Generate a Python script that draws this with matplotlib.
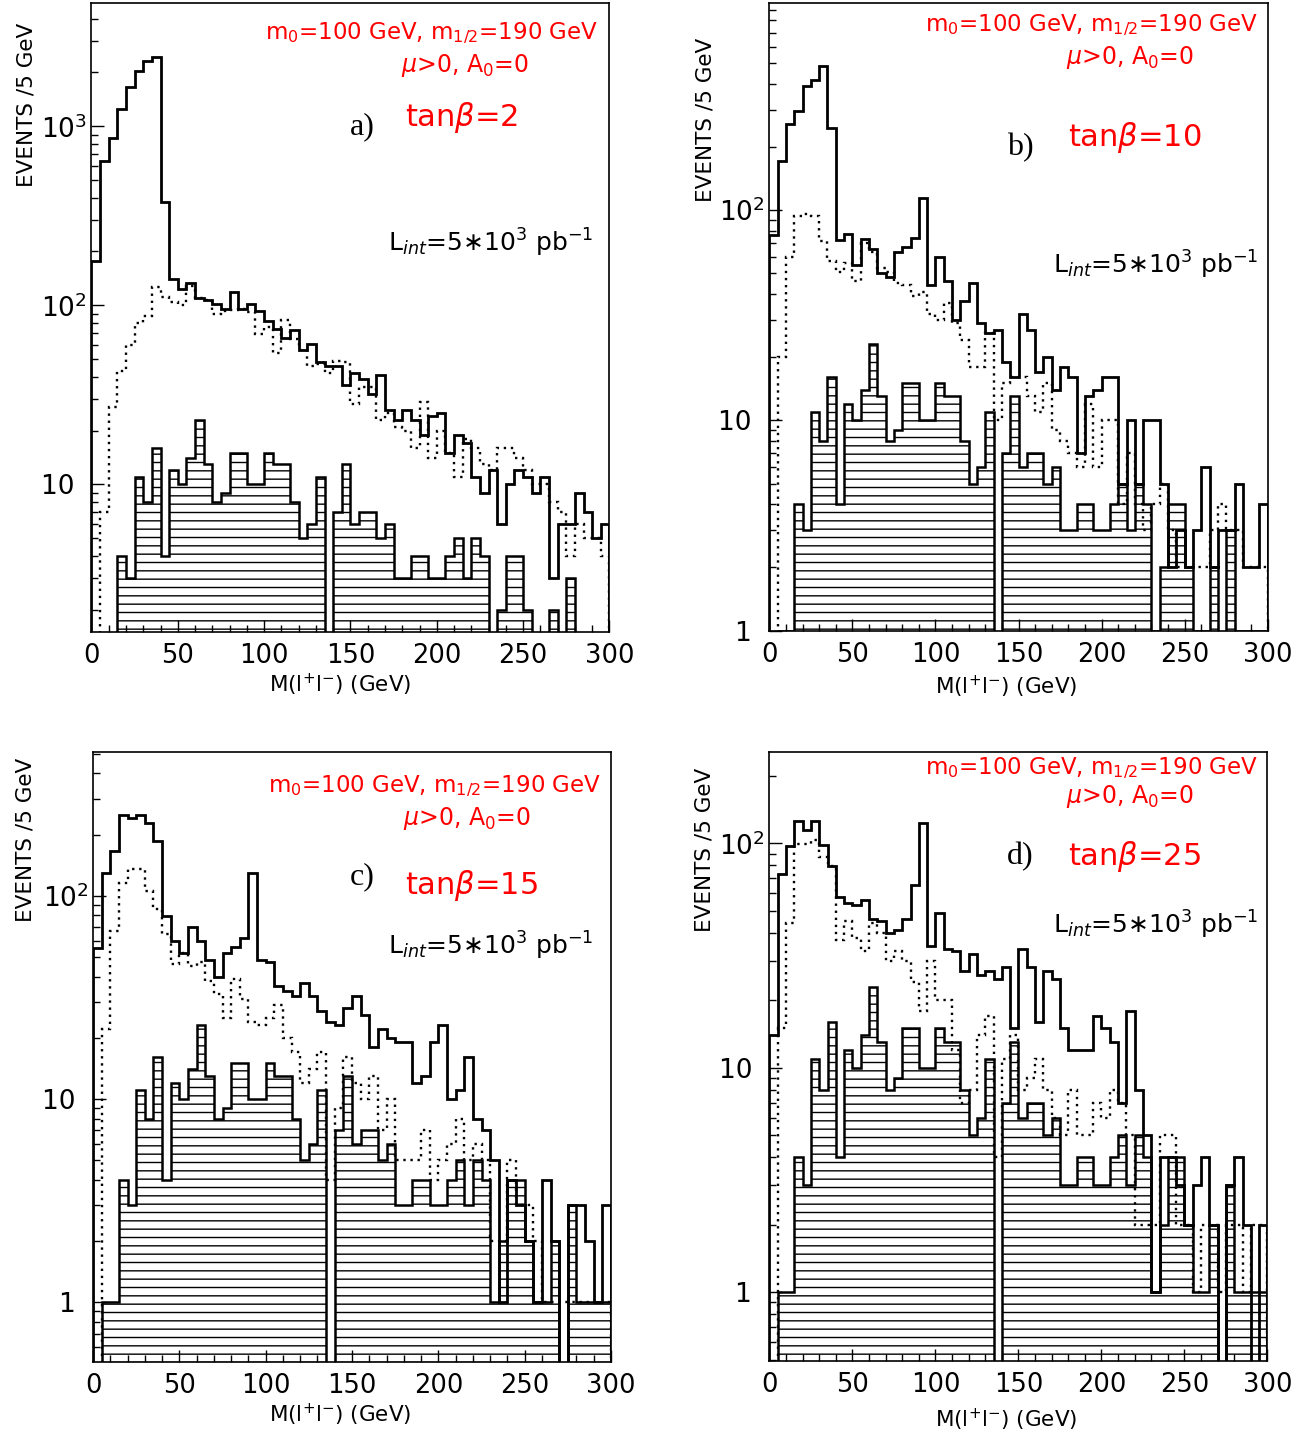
import numpy as np
import matplotlib
matplotlib.use('Agg')
import matplotlib.pyplot as plt
from matplotlib.ticker import FixedLocator, LogLocator, MultipleLocator, FuncFormatter, NullFormatter

plt.rcParams['font.family'] = ['DejaVu Sans']
plt.rcParams['mathtext.fontset'] = 'dejavusans'
plt.rcParams['hatch.linewidth'] = 1.0

# 5 GeV bins from 0 to 300 GeV
edges = np.arange(0, 305, 5)

# hatched histogram, the same in all four panels
hatched = [0, 1, 1, 4, 3, 11, 8, 16, 4, 12,
           10, 14, 23, 13, 8, 9, 15, 15, 10, 10,
           15, 13, 13, 8, 5, 6, 11, 0, 7, 13,
           6, 7, 7, 5, 6, 3, 3, 4, 4, 3,
           3, 4, 5, 3, 5, 4, 1, 2, 4, 4,
           2, 1, 1, 2, 0, 3, 1, 1, 1, 1]

# a) tan(beta) = 2
solid_a = [176, 638, 865, 1250, 1660, 2050, 2330, 2435, 378, 140,
           123, 134, 110, 107, 102, 95, 119, 95, 102, 93,
           82, 74, 66, 73, 56, 61, 48, 46, 46, 36,
           42, 39, 32, 41, 26, 23, 26, 23, 19, 24,
           25, 15, 19, 17, 11, 9, 12, 6, 10, 12,
           11, 9, 11, 3, 6, 6, 9, 7, 5, 6]
dotted_a = [0, 7, 27, 43, 60, 80, 87, 127, 111, 105,
            100, 128, 110, 107, 89, 93, 94, 95, 92, 69,
            76, 54, 83, 65, 56, 46, 47, 42, 49, 48,
            28, 35, 35, 23, 25, 21, 20, 16, 29, 14,
            20, 15, 11, 18, 16, 13, 12, 16, 16, 14,
            12, 10, 10, 8, 7, 4, 6, 5, 5, 4]

# b) tan(beta) = 10
solid_b = [76, 171, 256, 297, 391, 414, 484, 247, 72, 77,
           55, 73, 65, 50, 48, 63, 67, 74, 114, 44,
           60, 46, 30, 37, 45, 29, 26, 27, 19, 16,
           32, 27, 17, 20, 14, 18, 16, 7, 13, 14,
           16, 16, 5, 10, 5, 10, 10, 5, 2, 3,
           2, 3, 6, 2, 3, 3, 5, 2, 2, 4]
dotted_b = [0, 20, 60, 94, 96, 94, 71, 57, 51, 56,
            46, 70, 63, 53, 51, 45, 44, 39, 41, 32,
            30, 36, 29, 24, 18, 18, 26, 10, 15, 16,
            16, 13, 11, 15, 9, 8, 7, 6, 12, 6,
            10, 10, 4, 7, 4, 3, 4, 5, 3, 2,
            2, 2, 2, 3, 4, 3, 3, 2, 2, 2]

# c) tan(beta) = 15
solid_c = [55, 129, 165, 250, 241, 250, 228, 185, 79, 60,
           52, 70, 60, 48, 40, 52, 56, 62, 129, 48,
           47, 36, 34, 32, 37, 32, 27, 24, 23, 28,
           32, 26, 18, 22, 20, 19, 19, 12, 13, 19,
           23, 10, 11, 16, 8, 7, 5, 1, 4, 3,
           2, 1, 4, 2, 0, 3, 3, 2, 1, 3]
dotted_c = [0, 22, 67, 116, 135, 135, 106, 86, 65, 46,
            52, 45, 47, 38, 33, 25, 39, 31, 24, 23,
            25, 29, 20, 17, 12, 14, 17, 4, 9, 16,
            12, 10, 13, 7, 10, 5, 5, 5, 7, 4,
            5, 6, 8, 5, 6, 5, 2, 2, 5, 3,
            3, 2, 1, 1, 1, 1, 1, 1, 1, 1]

# d) tan(beta) = 25
solid_d = [14, 73, 97, 126, 115, 126, 98, 79, 58, 54,
           53, 56, 46, 45, 40, 41, 46, 65, 123, 35,
           49, 34, 33, 27, 32, 26, 27, 25, 28, 15,
           34, 28, 16, 27, 25, 15, 12, 12, 12, 17,
           15, 13, 7, 18, 8, 5, 1, 4, 4, 3,
           2, 3, 4, 2, 0, 3, 4, 2, 0, 2]
dotted_d = [0, 15, 44, 99, 99, 104, 87, 79, 37, 45,
            38, 33, 44, 40, 30, 33, 30, 24, 18, 30,
            20, 20, 12, 7, 8, 14, 17, 4, 11, 14,
            8, 9, 11, 8, 6, 5, 8, 5, 5, 7,
            6, 8, 7, 5, 2, 2, 2, 5, 5, 2,
            2, 1, 2, 2, 1, 2, 2, 1, 2, 2]

tanb_values = ['2', '10', '15', '25']
letters = ['a)', 'b)', 'c)', 'd)']

# layout of each panel (axes rect, y range, text spots in axes fractions)
panels = [
    dict(solid=solid_a, dotted=dotted_a, rect=[0.0696, 0.5611, 0.3942, 0.4370],
         ylim=(1.5, 4900), yticks=[10, 100, 1000],
         ylab=(-0.126, 0.838), xlab=(0.48, -0.084),
         m=(0.978, 0.952), mu=(0.721, 0.901), let=(0.522, 0.803),
         tb=(0.605, 0.818), lint=(0.572, 0.618)),
    dict(solid=solid_b, dotted=dotted_b, rect=[0.5855, 0.5621, 0.3793, 0.4360],
         ylim=(1.0, 970), yticks=[1, 10, 100],
         ylab=(-0.129, 0.813), xlab=(0.475, -0.090),
         m=(0.980, 0.964), mu=(0.724, 0.913), let=(0.503, 0.770),
         tb=(0.599, 0.786), lint=(0.569, 0.582)),
    dict(solid=solid_c, dotted=dotted_c, rect=[0.0708, 0.0544, 0.3942, 0.4232],
         ylim=(0.509, 508), yticks=[1, 10, 100],
         ylab=(-0.131, 0.856), xlab=(0.477, -0.088),
         m=(0.981, 0.945), mu=(0.722, 0.891), let=(0.519, 0.795),
         tb=(0.602, 0.781), lint=(0.570, 0.682)),
    dict(solid=solid_d, dotted=dotted_d, rect=[0.5856, 0.0549, 0.3790, 0.4227],
         ylim=(0.4934, 255), yticks=[1, 10, 100],
         ylab=(-0.130, 0.840), xlab=(0.475, -0.097),
         m=(0.981, 0.973), mu=(0.724, 0.927), let=(0.503, 0.828),
         tb=(0.599, 0.828), lint=(0.569, 0.716)),
]


def ytick_text(v, pos):
    if v >= 100:
        return r'$10^{%d}$' % round(np.log10(v))
    if v == 10:
        return '10\u2002'
    if v == 1:
        return '1\u2002'
    return ''


fig = plt.figure(figsize=(13.14, 14.4), dpi=100)

for i, p in enumerate(panels):
    ax = fig.add_axes(p['rect'])
    ax.set_yscale('log')

    ax.stairs(hatched, edges, fill=True, facecolor='none', edgecolor='black',
              hatch='--', linewidth=1.8, zorder=1)
    ax.stairs(p['dotted'], edges, color='black', linestyle=(0, (1, 2)),
              linewidth=1.7, zorder=2)
    ax.stairs(p['solid'], edges, color='black', linewidth=2.0, zorder=3)

    ax.set_xlim(0, 300)
    ax.set_ylim(*p['ylim'])
    ax.xaxis.set_major_locator(MultipleLocator(50))
    ax.xaxis.set_minor_locator(MultipleLocator(10))
    ax.yaxis.set_major_locator(FixedLocator(p['yticks']))
    ax.yaxis.set_minor_locator(LogLocator(base=10, subs=np.arange(2, 10)))
    ax.yaxis.set_minor_formatter(NullFormatter())
    ax.yaxis.set_major_formatter(FuncFormatter(ytick_text))

    ax.tick_params(which='both', direction='in', top=False, right=False, width=1.0)
    ax.tick_params(which='major', length=9)
    ax.tick_params(which='minor', length=5)
    ax.tick_params(axis='x', labelsize=18.5, pad=8)
    ax.tick_params(axis='y', labelsize=19, pad=3)
    for s in ax.spines.values():
        s.set_linewidth(1.2)

    ax.set_xlabel(r'M(l$^{+}$l$^{-}$) (GeV)', fontsize=15.5)
    ax.xaxis.set_label_coords(*p['xlab'])
    ax.xaxis.label.set_va('center')
    ax.set_ylabel('EVENTS /5 GeV', fontsize=15.5)
    ax.yaxis.set_label_coords(*p['ylab'])
    ax.yaxis.label.set_va('center')

    ax.text(*p['m'], r'm$_0$=100 GeV, m$_{1/2}$=190 GeV', transform=ax.transAxes,
            ha='right', va='center', color='red', fontsize=16.5)
    ax.text(*p['mu'], r'$\mu$>0, A$_0$=0', transform=ax.transAxes,
            ha='center', va='center', color='red', fontsize=17)
    ax.text(*p['let'], letters[i], transform=ax.transAxes, ha='center', va='center',
            fontsize=23, family='Liberation Serif')
    ax.text(*p['tb'], r'tan$\beta$=' + tanb_values[i], transform=ax.transAxes,
            ha='left', va='center', color='red', fontsize=22)
    ax.text(*p['lint'], r'L$_{int}$=5$\ast$10$^{3}$ pb$^{-1}$', transform=ax.transAxes,
            ha='left', va='center', fontsize=18)

fig.savefig('out.png', dpi=100)
